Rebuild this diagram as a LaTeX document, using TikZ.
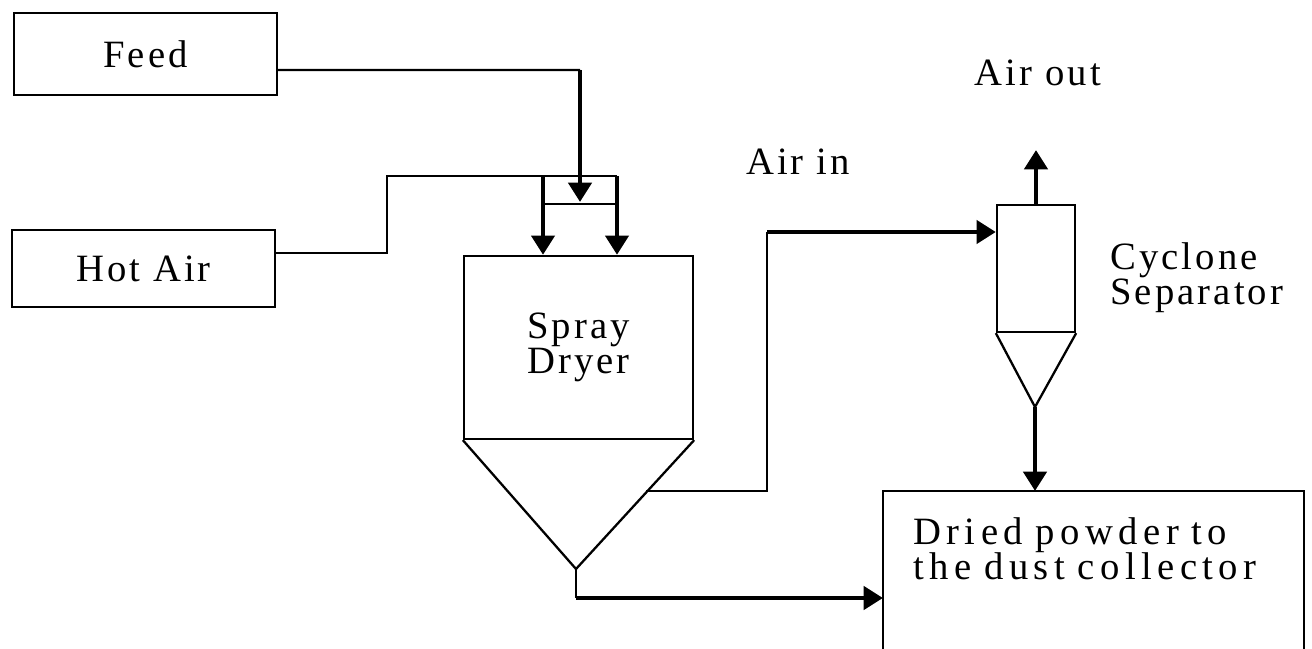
\documentclass[tikz,border=0pt]{standalone}
\usepackage{fontspec}
\setmainfont{Liberation Serif}[LetterSpace=8]
\usetikzlibrary{arrows.meta}
\tikzset{
  pipe/.style={line width=1.3pt},
  flow/.style={line width=2.8pt,-{Triangle[length=11pt,width=13pt]}},
  unit/.style={draw,line width=1.3pt,inner sep=0pt,align=center},
  lab/.style={inner sep=0pt,align=left}
}
\begin{document}
\begin{tikzpicture}[x=0.2mm,y=-0.2mm,font=\fontsize{22}{20}\selectfont]
  \useasboundingbox (0,0) rectangle (1312,649);
  \node[unit,minimum width=5.26cm,minimum height=1.64cm] (feed) at (145.5,54) {Feed};
  \node[unit,minimum width=5.26cm,minimum height=1.54cm] (hot) at (143.5,268.5) {Hot Air};
  \node[unit,minimum width=4.58cm,minimum height=3.66cm] (dry) at (578.5,347.5) {Spray\\Dryer};
  \node[unit,minimum width=1.56cm,minimum height=2.54cm] (cyc) at (1036,268.5) {};
  \node[lab,anchor=north west,minimum width=8.4cm,inner xsep=6mm,inner ysep=5.3mm,
        text width=7.2cm,font=\fontsize{22}{20}\selectfont\addfontfeature{LetterSpace=14}]
        (coll) at (883,491) {Dried powder to\\the dust collector};
  \coordinate (dryapex) at (576,569);
  \coordinate (cycapex) at (1035,407);
  \coordinate (feedturn) at (580,70);
  \coordinate (airturn) at (767,232);
  \coordinate (outturn) at (576,598);
  \coordinate (collbot) at (0,649);
  % cones
  \draw[pipe] (dry.south west) -- (dryapex) -- (dry.south east);
  \draw[pipe] (cyc.south west) -- (cycapex) -- (cyc.south east);
  \draw[pipe] (coll.north west |- collbot) -- (coll.north west) -- (coll.north east) -- (coll.north east |- collbot);
  % feed and hot air
  \draw[pipe] ([yshift=-3.2mm]feed.east) -- (feedturn);
  \draw[flow] (feedturn) -- (580,202);
  \draw[pipe] ([yshift=3.1mm]hot.east) -| (387,176) -- (617,176);
  \draw[pipe] (543,204) -- (617,204);
  \foreach \x in {543,617}
    \draw[flow] (\x,176) -- (\x,176 |- dry.north);
  % air to cyclone
  \draw[pipe] (646,491) -| (airturn);
  \draw[flow] (airturn) -- (airturn -| cyc.west);
  \draw[flow] (cyc.north) -- (1036,150);
  \draw[flow] (cycapex) -- (cycapex |- coll.north);
  % powder out
  \draw[pipe] (dryapex) -- (outturn);
  \draw[flow] (outturn) -- (outturn -| coll.west);
  \node[lab] (airin) at (798,162) {Air in};
  \node[lab] (airout) at (1038,73) {Air out};
  \node[lab,anchor=west] (cyclab) at (1110,278) {Cyclone\\Separator};
\end{tikzpicture}
\end{document}
